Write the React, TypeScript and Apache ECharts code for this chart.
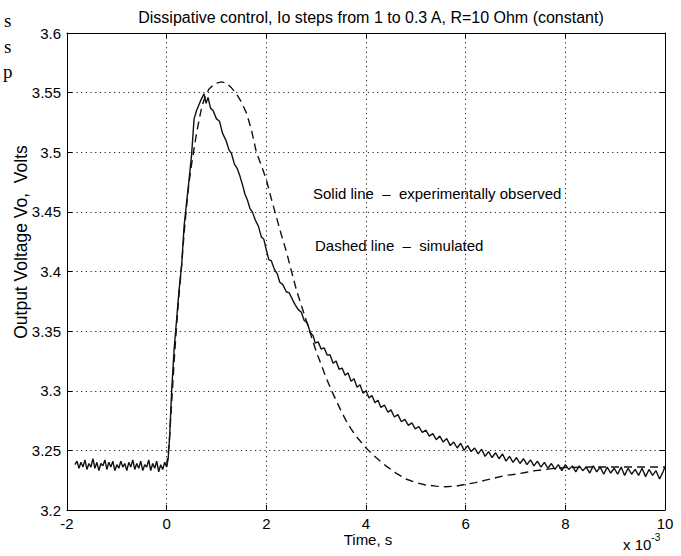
import React, { useEffect, useRef } from "react";
import * as echarts from "echarts";

const titleText = "Dissipative control, Io steps from 1 to 0.3 A, R=10 Ohm (constant)";
const yAxisTitle = "Output Voltage Vo,  Volts";
const xAxisTitle = "Time, s";
const xScaleBase = "x 10";
const xScaleExp = "-3";
const noteSolid = "Solid line  \u2013  experimentally observed";
const noteDashed = "Dashed line  \u2013  simulated";
const xTicks = [-2, 0, 2, 4, 6, 8, 10];
const yTicks = [3.2, 3.25, 3.3, 3.35, 3.4, 3.45, 3.5, 3.55, 3.6];

// Time in units of 1e-3 s
const solidT = [
  -1.84, -1.8, -1.76, -1.72, -1.68, -1.64, -1.6, -1.56, -1.52, -1.48, -1.44, -1.4, -1.36, -1.32, -1.28, -1.24,
  -1.2, -1.16, -1.12, -1.08, -1.04, -1.0, -0.96, -0.92, -0.88, -0.84, -0.8, -0.76, -0.72, -0.68, -0.64, -0.6,
  -0.56, -0.52, -0.48, -0.44, -0.4, -0.36, -0.32, -0.28, -0.24, -0.2, -0.16, -0.12, -0.08, -0.04, 0.0, 0.03,
  0.06, 0.1, 0.15, 0.2, 0.25, 0.3, 0.35, 0.4, 0.45, 0.5, 0.55, 0.6, 0.65, 0.7, 0.75, 0.79,
  0.83, 0.88, 0.93, 1.0, 1.06, 1.12, 1.19, 1.25, 1.3, 1.36, 1.42, 1.47, 1.52, 1.57, 1.62, 1.67,
  1.72, 1.78, 1.84, 1.9, 1.95, 2.0, 2.05, 2.1, 2.16, 2.22, 2.27, 2.33, 2.4, 2.46, 2.53, 2.58,
  2.64, 2.7, 2.76, 2.82, 2.88, 2.94, 2.98, 3.04, 3.1, 3.16, 3.22, 3.28, 3.34, 3.4, 3.46, 3.52,
  3.58, 3.64, 3.7, 3.76, 3.82, 3.88, 3.94, 4.0, 4.06, 4.12, 4.18, 4.24, 4.3, 4.37, 4.44, 4.5,
  4.57, 4.64, 4.71, 4.78, 4.85, 4.92, 4.99, 5.06, 5.13, 5.2, 5.27, 5.34, 5.41, 5.48, 5.55, 5.62,
  5.69, 5.76, 5.83, 5.9, 5.97, 6.04, 6.11, 6.18, 6.25, 6.32, 6.39, 6.46, 6.53, 6.6, 6.67, 6.74,
  6.81, 6.88, 6.95, 7.02, 7.09, 7.16, 7.23, 7.3, 7.37, 7.44, 7.51, 7.58, 7.65, 7.72, 7.79, 7.86,
  7.93, 8.0, 8.07, 8.14, 8.21, 8.28, 8.35, 8.42, 8.49, 8.56, 8.63, 8.7, 8.77, 8.84, 8.91, 8.98,
  9.05, 9.12, 9.19, 9.26, 9.33, 9.4, 9.47, 9.54, 9.61, 9.68, 9.75, 9.82, 9.89, 9.96, 10.0,
];
const solidV = [
  3.238, 3.241, 3.235, 3.24, 3.236, 3.242, 3.234, 3.239, 3.236, 3.243, 3.235, 3.24, 3.233, 3.239, 3.237, 3.242,
  3.234, 3.24, 3.236, 3.241, 3.233, 3.238, 3.235, 3.241, 3.236, 3.239, 3.233, 3.24, 3.236, 3.242, 3.234, 3.239,
  3.235, 3.241, 3.233, 3.238, 3.236, 3.242, 3.233, 3.239, 3.235, 3.241, 3.232, 3.238, 3.234, 3.24, 3.236, 3.243,
  3.262, 3.3, 3.335, 3.36, 3.385, 3.405, 3.438, 3.458, 3.477, 3.498, 3.528, 3.535, 3.54, 3.545, 3.549, 3.541,
  3.546, 3.537, 3.535, 3.528, 3.526, 3.516, 3.51, 3.502, 3.499, 3.49, 3.486, 3.48, 3.473, 3.465, 3.46, 3.453,
  3.45, 3.443, 3.438, 3.429, 3.427, 3.418, 3.41, 3.409, 3.402, 3.398, 3.391, 3.389, 3.383, 3.382, 3.376, 3.372,
  3.368, 3.366, 3.359, 3.357, 3.349, 3.346, 3.34, 3.341, 3.335, 3.336, 3.33, 3.33, 3.323, 3.325, 3.318, 3.319,
  3.313, 3.315, 3.308, 3.31, 3.303, 3.305, 3.298, 3.3, 3.294, 3.296, 3.29, 3.292, 3.286, 3.288, 3.282, 3.284,
  3.278, 3.28, 3.274, 3.276, 3.271, 3.273, 3.268, 3.27, 3.265, 3.267, 3.262, 3.264, 3.259, 3.262, 3.257, 3.26,
  3.254, 3.257, 3.252, 3.256, 3.25, 3.254, 3.249, 3.252, 3.247, 3.251, 3.245, 3.249, 3.244, 3.248, 3.243, 3.247,
  3.241, 3.245, 3.24, 3.244, 3.239, 3.243, 3.238, 3.242, 3.237, 3.241, 3.236, 3.24, 3.235, 3.239, 3.234, 3.238,
  3.233, 3.238, 3.234, 3.237, 3.232, 3.237, 3.233, 3.236, 3.231, 3.237, 3.232, 3.236, 3.23, 3.236, 3.231, 3.235,
  3.23, 3.236, 3.229, 3.235, 3.23, 3.234, 3.229, 3.235, 3.228, 3.234, 3.229, 3.233, 3.226, 3.232, 3.236,
];

const dashedT = [
  0.0, 0.05, 0.1, 0.15, 0.2, 0.25, 0.3, 0.35, 0.4, 0.45, 0.5, 0.55, 0.6, 0.65, 0.7, 0.75,
  0.8, 0.85, 0.9, 1.0, 1.1, 1.2, 1.3, 1.4, 1.5, 1.6, 1.7, 1.8, 1.9, 2.0, 2.1, 2.2,
  2.3, 2.4, 2.5, 2.6, 2.7, 2.8, 2.9, 3.0, 3.1, 3.2, 3.3, 3.4, 3.5, 3.6, 3.7, 3.8,
  3.9, 4.0, 4.2, 4.4, 4.6, 4.8, 5.0, 5.2, 5.4, 5.6, 5.8, 6.0, 6.2, 6.4, 6.6, 6.8,
  7.0, 7.2, 7.4, 7.6, 7.8, 8.0, 8.5, 9.0, 9.5, 10.0,
];
const dashedV = [
  3.237, 3.255, 3.29, 3.325, 3.355, 3.382, 3.405, 3.432, 3.455, 3.475, 3.49, 3.503, 3.516, 3.527, 3.537, 3.544,
  3.549, 3.553, 3.555, 3.558, 3.559, 3.558, 3.554, 3.549, 3.542, 3.533, 3.519, 3.5, 3.489, 3.477, 3.461, 3.446,
  3.431, 3.417, 3.401, 3.385, 3.372, 3.359, 3.346, 3.333, 3.322, 3.311, 3.301, 3.292, 3.283, 3.275, 3.268, 3.262,
  3.257, 3.252, 3.244, 3.237, 3.231, 3.226, 3.223, 3.221, 3.22, 3.2195, 3.22, 3.2215, 3.223, 3.225, 3.227, 3.229,
  3.23, 3.2315, 3.233, 3.234, 3.235, 3.2355, 3.236, 3.236, 3.236, 3.236,
];

const FONT = "'Liberation Sans', Arial, Helvetica, sans-serif";
const SERIF = "'Liberation Serif', 'DejaVu Serif', serif";

function fmtY(v: number) {
  return String(parseFloat(v.toFixed(2)));
}

export default function App() {
  const ref = useRef<HTMLDivElement>(null);
  useEffect(() => {
    document.body.style.margin = "0";
    if (!ref.current) return;
    const chart = echarts.init(ref.current, null, { renderer: "svg" });
    const solid = solidT.map((t, i) => [t, solidV[i]]);
    const dashed = dashedT.map((t, i) => [t, dashedV[i]]);
    const xMin = xTicks[0];
    const xMax = xTicks[xTicks.length - 1];
    const yMin = yTicks[0];
    const yMax = yTicks[yTicks.length - 1];
    const axisLine = { show: true, onZero: false, lineStyle: { color: "#000", width: 1 } };
    const tick = { show: true, inside: true, length: 5, lineStyle: { color: "#000", width: 1 } };
    const grid = { lineStyle: { color: "#222", width: 1, type: [1.2, 3.5] as any } };
    chart.setOption({
      animation: false,
      backgroundColor: "#fff",
      grid: { left: 67, right: 16, top: 33, bottom: 46, containLabel: false },
      xAxis: [
        {
          type: "value",
          min: xMin,
          max: xMax,
          interval: 2,
          position: "bottom",
          axisLine,
          axisTick: tick,
          splitLine: { show: true, ...grid },
          axisLabel: { color: "#000", fontSize: 15, fontFamily: FONT, margin: 6, formatter: (v: number) => String(v) },
        },
        {
          type: "value",
          min: xMin,
          max: xMax,
          interval: 2,
          position: "top",
          axisLine,
          axisTick: tick,
          splitLine: { show: false },
          axisLabel: { show: false },
        },
      ],
      yAxis: [
        {
          type: "value",
          min: yMin,
          max: yMax,
          interval: 0.05,
          position: "left",
          axisLine,
          axisTick: tick,
          splitLine: { show: true, ...grid },
          axisLabel: { color: "#000", fontSize: 15, fontFamily: FONT, margin: 6, formatter: fmtY },
        },
        {
          type: "value",
          min: yMin,
          max: yMax,
          interval: 0.05,
          position: "right",
          axisLine,
          axisTick: tick,
          splitLine: { show: false },
          axisLabel: { show: false },
        },
      ],
      series: [
        {
          name: "experimentally observed",
          type: "line",
          data: solid,
          xAxisIndex: 0,
          yAxisIndex: 0,
          showSymbol: false,
          symbol: "none",
          lineStyle: { color: "#111", width: 1.4 },
        },
        {
          name: "simulated",
          type: "line",
          data: dashed,
          xAxisIndex: 0,
          yAxisIndex: 0,
          showSymbol: false,
          symbol: "none",
          smooth: false,
          lineStyle: { color: "#111", width: 1.4, type: [8, 5] as any },
        },
      ],
      graphic: [
        {
          type: "text",
          x: 371,
          y: 17,
          style: { text: titleText, fill: "#000", font: `16px ${FONT}`, textAlign: "center", textVerticalAlign: "middle" },
        },
        {
          type: "text",
          x: 21,
          y: 242,
          rotation: Math.PI / 2,
          style: { text: yAxisTitle, fill: "#000", font: `17.5px ${FONT}`, textAlign: "center", textVerticalAlign: "middle" },
        },
        {
          type: "text",
          x: 368,
          y: 539,
          style: { text: xAxisTitle, fill: "#000", font: `15px ${FONT}`, textAlign: "center", textVerticalAlign: "middle" },
        },
        {
          type: "text",
          x: 623,
          y: 542,
          style: {
            text: `{a|${xScaleBase}}{b|${xScaleExp}}`,
            textAlign: "left",
            textVerticalAlign: "middle",
            rich: {
              a: { fontSize: 15, fontFamily: FONT, fill: "#000", lineHeight: 20, verticalAlign: "bottom" },
              b: { fontSize: 10, fontFamily: FONT, fill: "#000", lineHeight: 10, verticalAlign: "top" },
            },
          },
        },
        {
          type: "text",
          x: 313,
          y: 193,
          style: { text: noteSolid, fill: "#000", font: `15px ${FONT}`, textAlign: "left", textVerticalAlign: "middle" },
        },
        {
          type: "text",
          x: 315,
          y: 245,
          style: { text: noteDashed, fill: "#000", font: `15px ${FONT}`, textAlign: "left", textVerticalAlign: "middle" },
        },
        {
          type: "text",
          x: 4,
          y: 20,
          style: { text: "s", fill: "#000", font: `19px ${SERIF}`, textAlign: "left", textVerticalAlign: "middle" },
        },
        {
          type: "text",
          x: 4,
          y: 46,
          style: { text: "s", fill: "#000", font: `19px ${SERIF}`, textAlign: "left", textVerticalAlign: "middle" },
        },
        {
          type: "text",
          x: 3,
          y: 71,
          style: { text: "p", fill: "#000", font: `19px ${SERIF}`, textAlign: "left", textVerticalAlign: "middle" },
        },
      ],
    });
    return () => chart.dispose();
  }, []);
  return <div ref={ref} style={{ width: 681, height: 556 }} />;
}
